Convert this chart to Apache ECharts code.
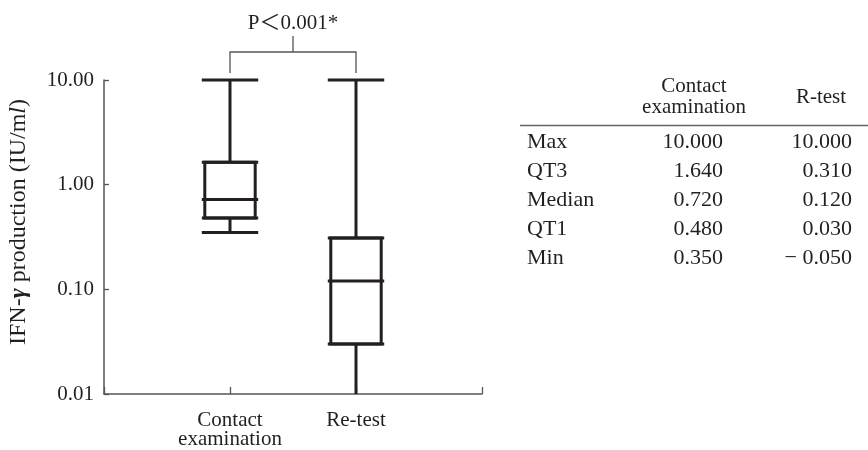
<!DOCTYPE html>
<html>
<head>
<meta charset="utf-8">
<script src="https://cdn.jsdelivr.net/npm/echarts@6/dist/echarts.min.js"></script>
<style>
html,body{margin:0;padding:0;background:#fff;}
#chart{width:868px;height:450px;}
</style>
</head>
<body>
<div id="chart"></div>
<script>
// ---- data ----
var categories = ['', 'Contact\nexamination', 'Re-test', ''];
var groupIndex = [1, 2];
var statNames = ['Max', 'QT3', 'Median', 'QT1', 'Min'];
var contactStats = [10.000, 1.640, 0.720, 0.480, 0.350];
var retestStats = [10.000, 0.310, 0.120, 0.030, -0.050];
var yTickValues = [0.01, 0.1, 1, 10];
var pText = 'P＜0.001*';
var tableHeader = ['Contact\nexamination', 'R-test'];

var AXIS_MIN = 0.01, AXIS_MAX = 10;
var FONT = "'Liberation Serif', 'Times New Roman', 'Noto Sans CJK SC', serif";
var INK = '#231f20';
var AXISC = '#555555';

function boxRow(x, s) {
  // [x, min, q1, median, q3, max, minClamped]
  var mn = s[4];
  return [x, Math.max(mn, AXIS_MIN), s[3], s[2], s[1], s[0], mn <= AXIS_MIN ? 1 : 0];
}
var boxData = [boxRow(groupIndex[0], contactStats), boxRow(groupIndex[1], retestStats)];

function fmt(v) {
  return v < 0 ? '\u2212\u2005' + Math.abs(v).toFixed(3) : v.toFixed(3);
}

var chart = echarts.init(document.getElementById('chart'), null, {renderer: 'canvas'});

function renderBox(params, api) {
  var x = api.value(0);
  var pMin = api.coord([x, api.value(1)]);
  var pQ1 = api.coord([x, api.value(2)]);
  var pMed = api.coord([x, api.value(3)]);
  var pQ3 = api.coord([x, api.value(4)]);
  var pMax = api.coord([x, api.value(5)]);
  var clamped = api.value(6);
  var cx = pMin[0];
  var band = api.size([1, 0])[0];
  var hb = band * 0.2;
  var hc = hb + 3;
  var st = {stroke: INK, lineWidth: 3, fill: null};
  var ch = [
    {type: 'line', shape: {x1: cx, y1: pQ3[1], x2: cx, y2: pMax[1]}, style: st},
    {type: 'line', shape: {x1: cx, y1: pQ1[1], x2: cx, y2: pMin[1]}, style: st},
    {type: 'rect', shape: {x: cx - hb, y: pQ3[1], width: 2 * hb, height: pQ1[1] - pQ3[1]}, style: {stroke: INK, lineWidth: 3, fill: '#fff'}},
    {type: 'line', shape: {x1: cx - hc, y1: pMax[1], x2: cx + hc, y2: pMax[1]}, style: st},
    {type: 'line', shape: {x1: cx - hc, y1: pMed[1], x2: cx + hc, y2: pMed[1]}, style: st},
    {type: 'line', shape: {x1: cx - hc, y1: pQ3[1], x2: cx + hc, y2: pQ3[1]}, style: st},
    {type: 'line', shape: {x1: cx - hc, y1: pQ1[1], x2: cx + hc, y2: pQ1[1]}, style: st}
  ];
  if (!clamped) {
    ch.push({type: 'line', shape: {x1: cx - hc, y1: pMin[1], x2: cx + hc, y2: pMin[1]}, style: st});
  }
  return {type: 'group', children: ch};
}

function renderBracket(params, api) {
  var a = api.coord([api.value(0), api.value(2)]);
  var b = api.coord([api.value(1), api.value(2)]);
  var yb = a[1] - 7, yt = a[1] - 28, mid = (a[0] + b[0]) / 2;
  var st = {stroke: AXISC, lineWidth: 1.3, fill: null};
  return {type: 'group', children: [
    {type: 'polyline', shape: {points: [[a[0], yb], [a[0], yt], [b[0], yt], [b[0], yb]]}, style: st},
    {type: 'line', shape: {x1: mid, y1: yt, x2: mid, y2: yt - 16}, style: st},
    {type: 'text', style: {text: pText, x: mid, y: yt - 29, align: 'center', verticalAlign: 'middle', font: '21px ' + FONT, fill: INK}}
  ]};
}

var TF = '22px ' + FONT;
var tableX1 = 723, tableX2 = 852, labelX = 527, rowY0 = 142, rowStep = 29;
var graphics = [
  {type: 'text', style: {text: tableHeader[0], x: 694, y: 97, align: 'center', verticalAlign: 'middle', font: '21px ' + FONT, lineHeight: 21, fill: INK}},
  {type: 'text', style: {text: tableHeader[1], x: 821, y: 97, align: 'center', verticalAlign: 'middle', font: '21px ' + FONT, fill: INK}},
  {type: 'line', shape: {x1: 520, y1: 125.5, x2: 868, y2: 125.5}, style: {stroke: '#666', lineWidth: 1.5}},
  {
    type: 'text', x: 19, y: 222, rotation: Math.PI / 2,
    style: {
      text: '{n|IFN-}{g|γ}{n| production (IU/m}{i|l}{n|)}',
      align: 'center', verticalAlign: 'middle',
      rich: {
        n: {fontFamily: FONT, fontSize: 24, fill: INK},
        g: {fontFamily: FONT, fontSize: 24, fill: INK, fontWeight: 'bold', fontStyle: 'italic'},
        i: {fontFamily: FONT, fontSize: 24, fill: INK, fontStyle: 'italic'}
      }
    }
  }
];
statNames.forEach(function (n, i) {
  var y = rowY0 + i * rowStep;
  graphics.push({type: 'text', style: {text: n, x: labelX, y: y, align: 'left', verticalAlign: 'middle', font: TF, fill: INK}});
  graphics.push({type: 'text', style: {text: fmt(contactStats[i]), x: tableX1, y: y, align: 'right', verticalAlign: 'middle', font: TF, fill: INK}});
  graphics.push({type: 'text', style: {text: fmt(retestStats[i]), x: tableX2, y: y, align: 'right', verticalAlign: 'middle', font: TF, fill: INK}});
});

chart.setOption({
  animation: false,
  backgroundColor: '#fff',
  grid: {left: 104, right: 386, top: 80, bottom: 56, containLabel: false, outerBoundsMode: 'none'},
  xAxis: {
    type: 'category',
    data: categories,
    boundaryGap: false,
    axisLine: {lineStyle: {color: AXISC, width: 1.5}},
    axisTick: {inside: true, length: 7, lineStyle: {color: AXISC, width: 1.3}},
    axisLabel: {color: INK, fontFamily: FONT, fontSize: 21, lineHeight: 19, margin: 17, interval: 0},
    splitLine: {show: false}
  },
  yAxis: {
    type: 'log',
    logBase: 10,
    min: AXIS_MIN,
    max: AXIS_MAX,
    axisLine: {show: true, lineStyle: {color: AXISC, width: 1.5}},
    axisTick: {show: true, inside: true, length: 5, lineStyle: {color: AXISC, width: 1.3}},
    axisLabel: {color: INK, fontFamily: FONT, fontSize: 21, margin: 10,
      formatter: function (v) { return (+v).toFixed(2); }},
    splitLine: {show: false}
  },
  graphic: graphics,
  series: [
    {
      type: 'custom',
      renderItem: renderBox,
      encode: {x: 0, y: [1, 2, 3, 4, 5]},
      data: boxData,
      clip: false,
      z: 3
    },
    {
      type: 'custom',
      renderItem: renderBracket,
      encode: {x: [0, 1], y: 2},
      data: [[groupIndex[0], groupIndex[1], AXIS_MAX]],
      clip: false,
      silent: true,
      z: 2
    }
  ]
});
</script>
</body>
</html>
